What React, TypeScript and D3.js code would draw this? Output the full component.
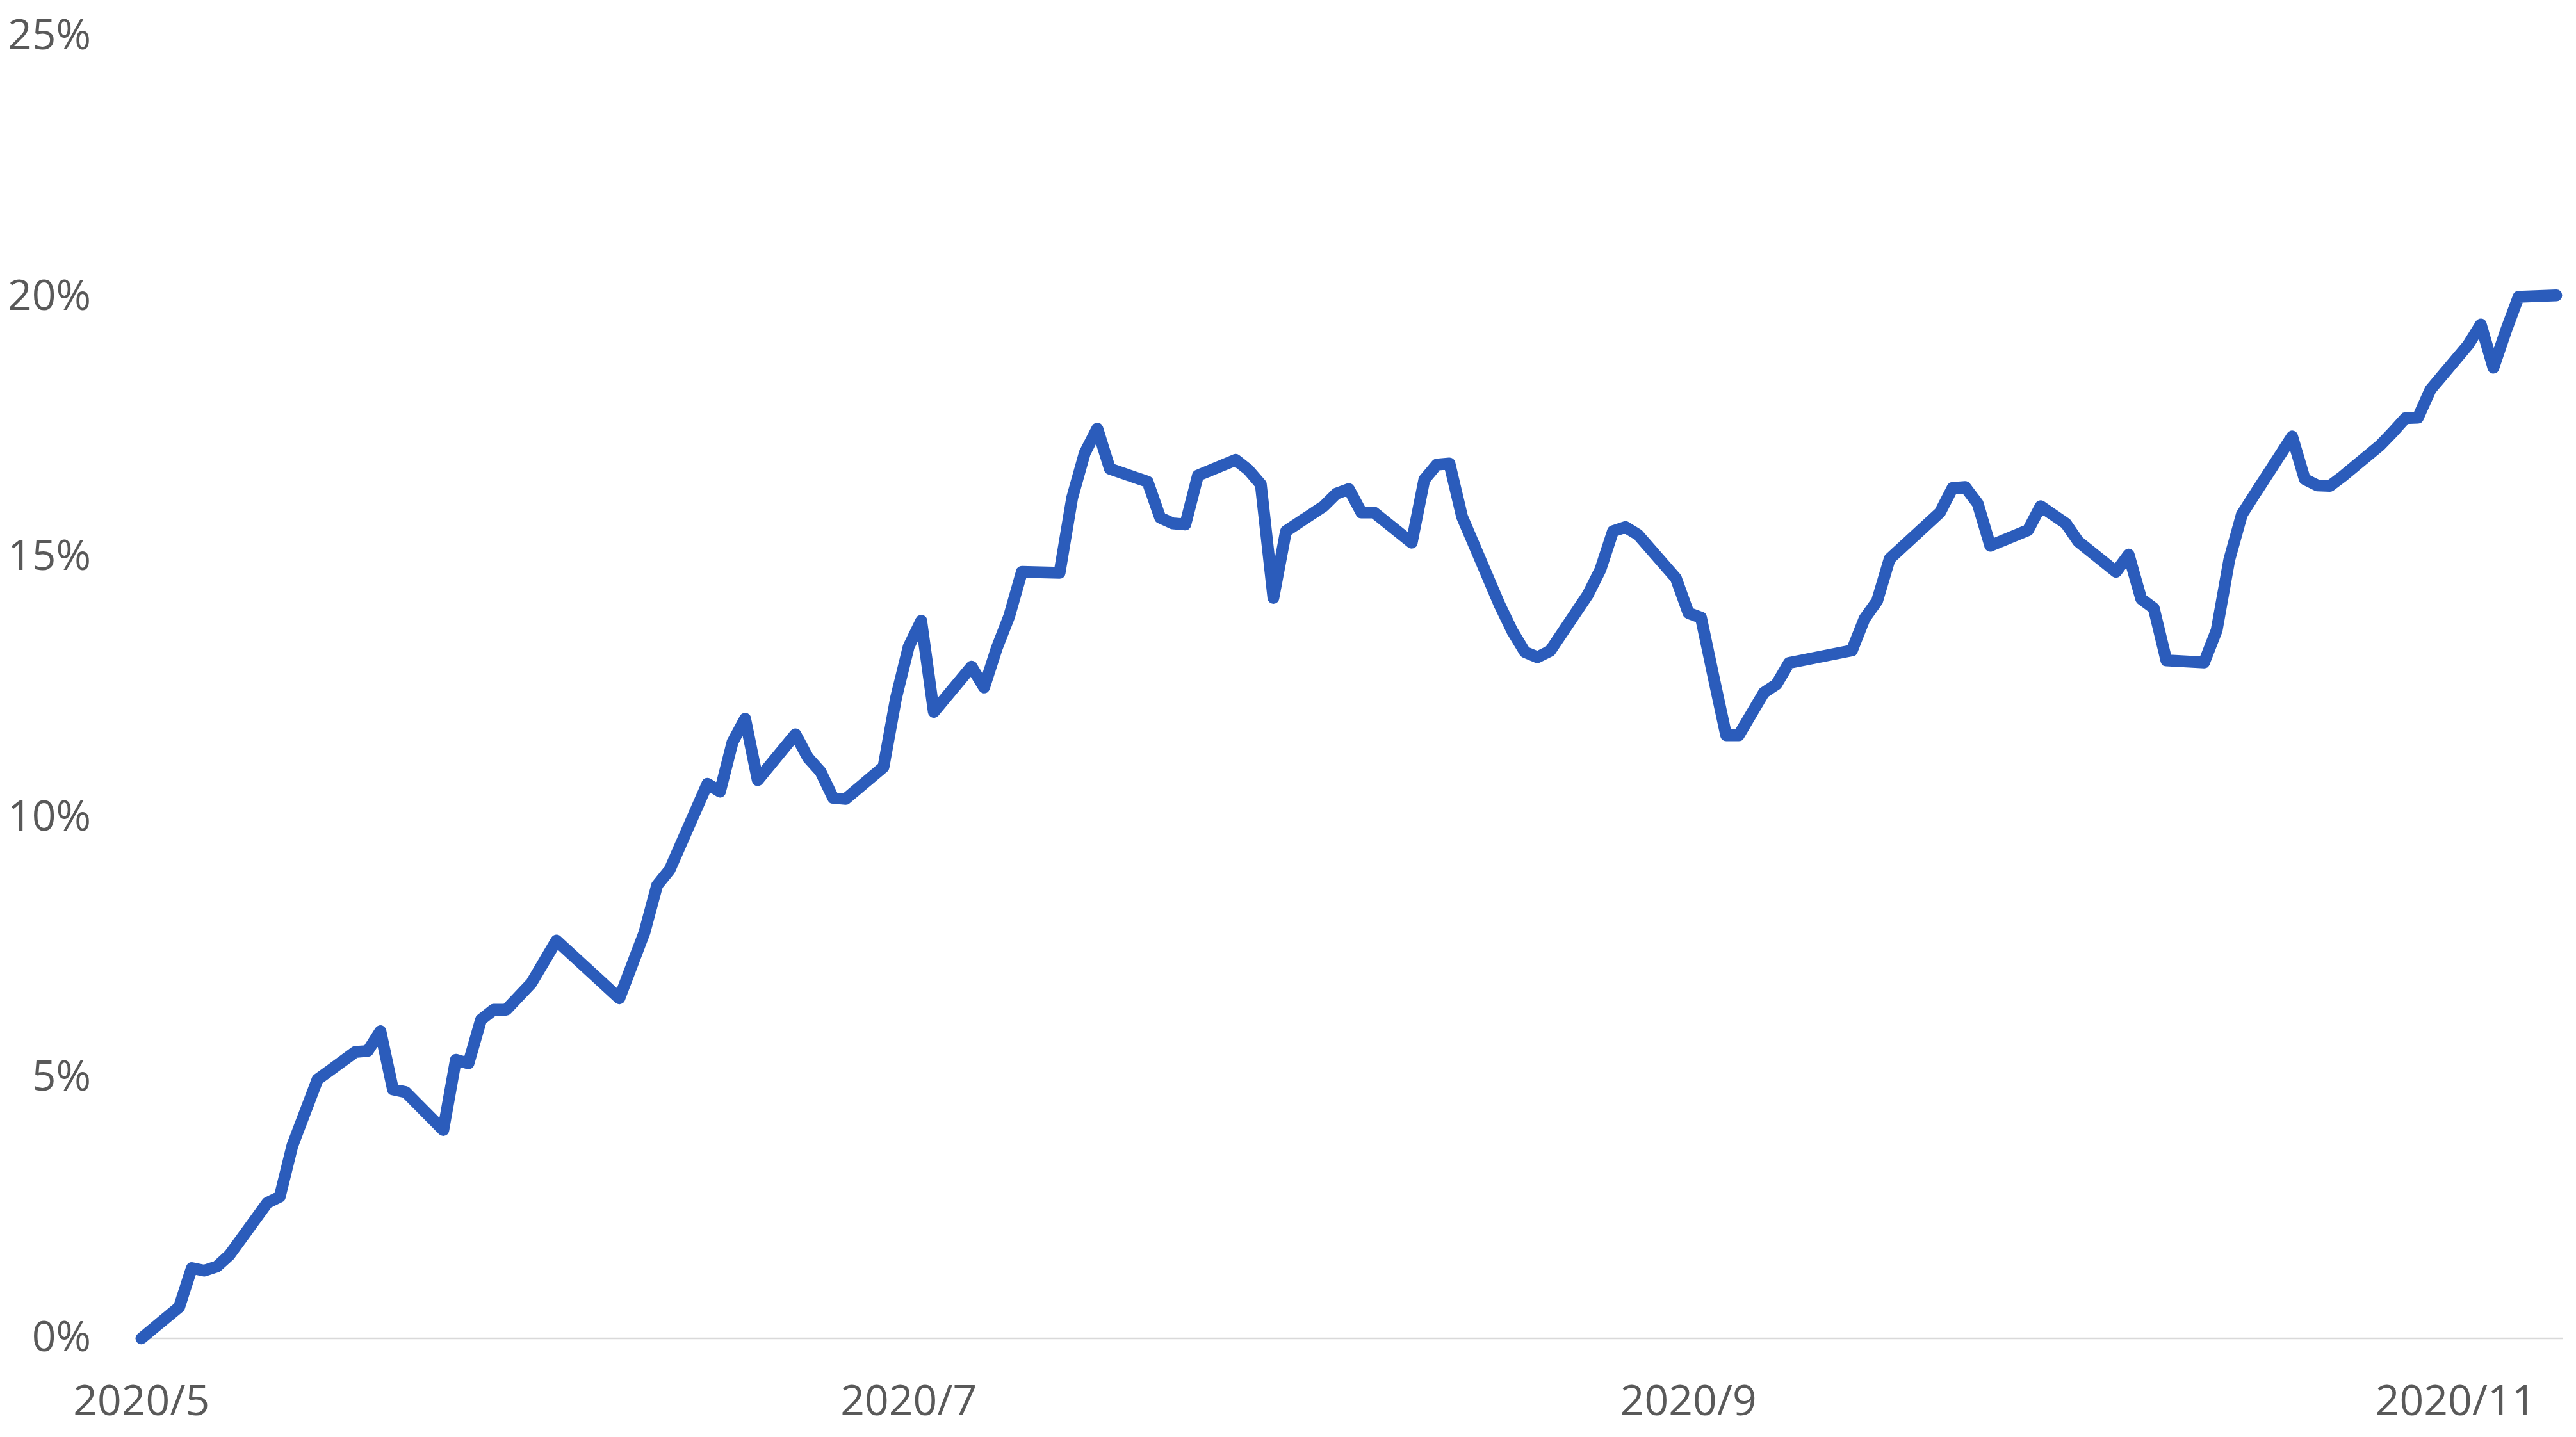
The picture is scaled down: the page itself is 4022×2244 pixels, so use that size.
import React from "react";
import * as d3 from "d3";

const dates: string[] = [
  "2020-05-01","2020-05-04","2020-05-05","2020-05-06","2020-05-07","2020-05-08",
  "2020-05-11","2020-05-12","2020-05-13","2020-05-15",
  "2020-05-18","2020-05-19","2020-05-20","2020-05-21","2020-05-22",
  "2020-05-25","2020-05-26","2020-05-27","2020-05-28","2020-05-29","2020-05-30",
  "2020-06-01","2020-06-03","2020-06-08","2020-06-10","2020-06-11","2020-06-12",
  "2020-06-15","2020-06-16","2020-06-17","2020-06-18","2020-06-19",
  "2020-06-22","2020-06-23","2020-06-24","2020-06-25","2020-06-26",
  "2020-06-29","2020-06-30","2020-07-01","2020-07-02","2020-07-03",
  "2020-07-06","2020-07-07","2020-07-08","2020-07-09","2020-07-10",
  "2020-07-13","2020-07-14","2020-07-15","2020-07-16","2020-07-17",
  "2020-07-20","2020-07-21","2020-07-22","2020-07-23","2020-07-24",
  "2020-07-27","2020-07-28","2020-07-29","2020-07-30","2020-07-31",
  "2020-08-03","2020-08-04","2020-08-05","2020-08-06","2020-08-07",
  "2020-08-10","2020-08-11","2020-08-12","2020-08-13","2020-08-14",
  "2020-08-17","2020-08-18","2020-08-19","2020-08-20","2020-08-21",
  "2020-08-24","2020-08-25","2020-08-26","2020-08-27","2020-08-28",
  "2020-08-31","2020-09-01","2020-09-02","2020-09-03","2020-09-04","2020-09-05",
  "2020-09-07","2020-09-08","2020-09-09",
  "2020-09-14","2020-09-15","2020-09-16","2020-09-17",
  "2020-09-21","2020-09-22","2020-09-23","2020-09-24","2020-09-25",
  "2020-09-28","2020-09-29","2020-10-01","2020-10-02",
  "2020-10-05","2020-10-06","2020-10-07","2020-10-08","2020-10-09",
  "2020-10-12","2020-10-13","2020-10-14","2020-10-15","2020-10-16",
  "2020-10-19","2020-10-20","2020-10-21","2020-10-22","2020-10-23",
  "2020-10-26","2020-10-27","2020-10-28","2020-10-29","2020-10-30",
  "2020-11-02","2020-11-03","2020-11-04","2020-11-05","2020-11-06",
  "2020-11-09",
];

const returns: number[] = [
  0, 0.6, 1.35, 1.3, 1.38, 1.6,
  2.6, 2.72, 3.7, 4.97,
  5.5, 5.52, 5.9, 4.78, 4.73,
  4.0, 5.35, 5.28, 6.12, 6.31, 6.31,
  6.82, 7.64, 6.53, 7.8, 8.7, 9.0,
  10.65, 10.5, 11.45, 11.9, 10.72,
  11.6, 11.15, 10.88, 10.38, 10.36,
  10.97, 12.3, 13.28, 13.78, 12.03,
  12.9, 12.5, 13.25, 13.87, 14.72,
  14.7, 16.14, 17.0, 17.47, 16.7,
  16.45, 15.76, 15.65, 15.63, 16.57,
  16.87, 16.68, 16.4, 14.22, 15.5,
  15.98, 16.22, 16.31, 15.86, 15.86,
  15.28, 16.49, 16.78, 16.8, 15.78,
  14.08, 13.58, 13.18, 13.08, 13.2,
  14.28, 14.76, 15.5, 15.58, 15.43,
  14.6, 13.93, 13.84, 12.7, 11.58, 11.58,
  12.4, 12.56, 12.97,
  13.21, 13.82, 14.16, 14.97,
  15.86, 16.33, 16.35, 16.03, 15.22,
  15.52, 15.98, 15.65, 15.3,
  14.72, 15.05, 14.2, 14.02, 13.02,
  12.98, 13.6, 14.95, 15.82, 16.2,
  17.32, 16.5, 16.38, 16.37, 16.55,
  17.15, 17.4, 17.67, 17.68, 18.22,
  19.08, 19.47, 18.64, 19.35, 20.0,
  20.03,
];

const yTicks: number[] = [0, 5, 10, 15, 20, 25];
const xTickDates: string[] = ["2020-05-01", "2020-07-01", "2020-09-01", "2020-11-01"];
const xTickLabels: string[] = ["2020/5", "2020/7", "2020/9", "2020/11"];
const axisStart = "2020-05-01";
const axisEnd = "2020-11-10";

const W = 4022;
const H = 2244;
const FONT = "'Open Sans', 'Noto Sans', sans-serif";
const TEXT = "#595959";
const BLUE = "#2B5CBB";

export default function App() {
  const parse = d3.timeParse("%Y-%m-%d");
  const half = (s: string) => d3.timeHour.offset(parse(s) as Date, 12);

  const x = d3
    .scaleTime()
    .domain([parse(axisStart) as Date, parse(axisEnd) as Date])
    .range([211, 4001]);
  const y = d3.scaleLinear().domain([0, 25]).range([2090, 57]);

  const pts = dates.map((d, i) => ({ t: half(d), v: returns[i] }));
  const line = d3
    .line<{ t: Date; v: number }>()
    .x((p) => x(p.t))
    .y((p) => y(p.v));

  return (
    <svg
      width={W}
      height={H}
      style={{ position: "absolute", left: 0, top: 0, display: "block", background: "#fff" }}
    >
      <rect x={0} y={0} width={W} height={H} fill="#fff" />
      <line
        x1={x(parse(axisStart) as Date)}
        x2={x(parse(axisEnd) as Date)}
        y1={y(0)}
        y2={y(0)}
        stroke="#D9D9D9"
        strokeWidth={2.5}
      />
      {yTicks.map((t) => (
        <text
          key={t}
          x={142}
          y={y(t) + 20}
          textAnchor="end"
          fontFamily={FONT}
          fontSize={66}
          fill={TEXT}
        >
          {`${t}%`}
        </text>
      ))}
      {xTickDates.map((d, i) => (
        <text
          key={d}
          x={x(half(d))}
          y={2210}
          textAnchor="middle"
          fontFamily={FONT}
          fontSize={66}
          fill={TEXT}
        >
          {xTickLabels[i]}
        </text>
      ))}
      <path
        d={line(pts) || ""}
        fill="none"
        stroke={BLUE}
        strokeWidth={18.5}
        strokeLinejoin="round"
        strokeLinecap="round"
      />
    </svg>
  );
}
